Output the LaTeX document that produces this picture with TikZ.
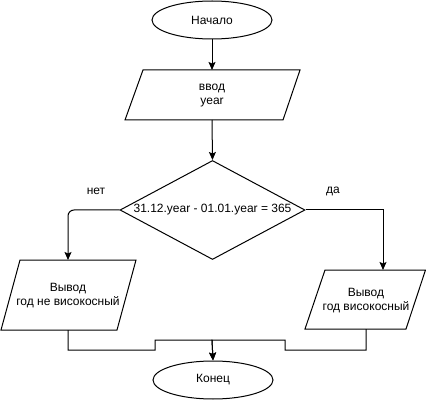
\documentclass[tikz,border=0pt]{standalone}
\usepackage{fontspec}
\setmainfont{Liberation Sans}
\usetikzlibrary{shapes.geometric,arrows.meta}
\tikzset{
  txt/.style={font=\fontsize{12}{14}\selectfont, align=center, inner sep=0pt, text=black},
  term/.style={txt, draw, ellipse, line width=1pt, minimum width=120pt, minimum height=38pt},
  dec/.style={txt, draw, diamond, line width=1pt, aspect=1.85, minimum width=185pt, minimum height=99pt},
  pgram/.style={draw, line width=1pt, line join=miter},
  conn/.style={draw, line width=1pt, -{Stealth[length=8pt,width=7pt,inset=1.5pt]}},
}
\begin{document}
\begin{tikzpicture}[x=1pt,y=-1pt]
\useasboundingbox[fill=white] (0,0) rectangle (426,401);
% terminals
\node[term] (start) at (212,20) {Начало};
\node[term] (end) at (213,380) {Конец};
% input
\path[pgram] (143,70) -- (300,70) -- (283,120) -- (125,120) -- cycle;
\node[txt] (inp) at (212,96) {ввод\\year};
\coordinate (inTop) at (212,70);
\coordinate (inBot) at (212,120);
% decision
\node[dec] (cond) at (212.5,210) {31.12.year - 01.01.year = 365};
% left output
\path[pgram] (20,260) -- (136,260) -- (117,330) -- (1,330) -- cycle;
\node[txt] (outL) at (68,296) {Вывод\\год не високосный};
\coordinate (lTop) at (68,260);
\coordinate (lBot) at (68,330);
% right output
\path[pgram] (325,270) -- (425.5,270) -- (406,329) -- (305,329) -- cycle;
\node[txt] (outR) at (366,301) {Вывод\\год високосный};
\coordinate (rTop) at (383,270);
\coordinate (rBot) at (366,329);
% labels
\node[txt] (no) at (96,191) {нет};
\node[txt] (yes) at (333,191) {да};
% bottom joins
\coordinate (jl) at (155,350);
\coordinate (jr) at (285,350);
\coordinate (jm) at (212,340);
% connectors
\path[conn] (start) -- (inTop);
\path[conn] (inBot) -- (cond.north);
\path[conn, rounded corners=6pt] (cond.west) -| (lTop);
\path[conn] (cond.east) -| (rTop);
\path[conn] (lBot) |- (jl) |- (jm) -- (end.north);
\path[conn] (rBot) |- (jr) |- (jm) -- (end.north);
\end{tikzpicture}
\end{document}
